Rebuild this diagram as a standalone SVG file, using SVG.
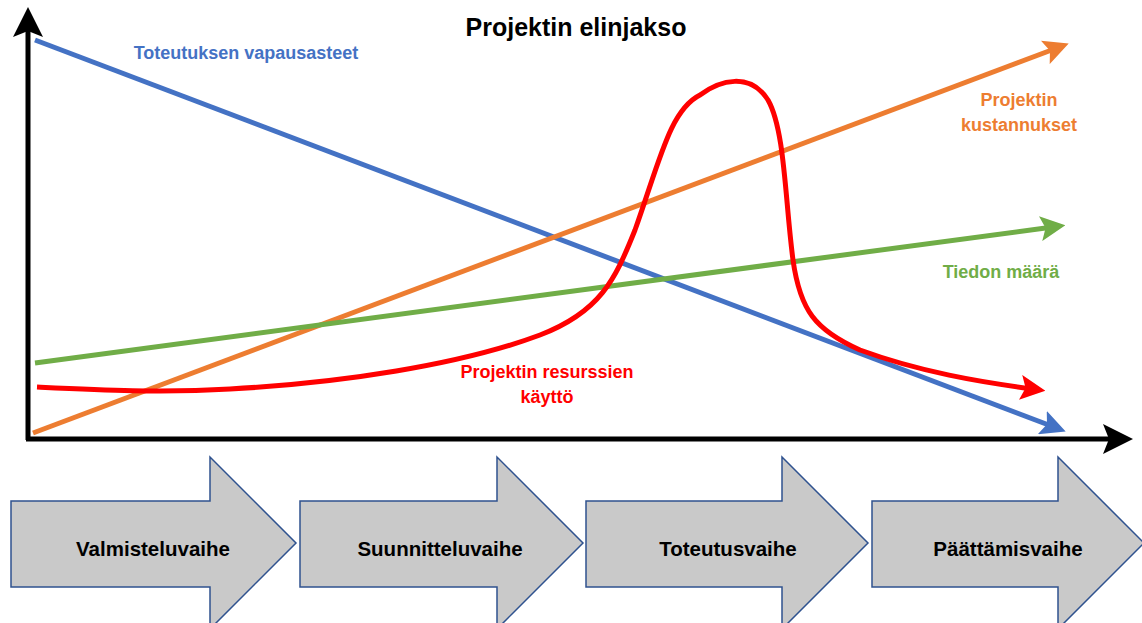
<svg xmlns="http://www.w3.org/2000/svg" width="1142" height="623" viewBox="0 0 1142 623">
  <defs>
    <style>
      text { font-family: "Liberation Sans", Arial, sans-serif; font-weight: bold; }
      .title { font-size: 25px; fill: #000; }
      .lbl { font-size: 18px; }
      .phase-shape { fill: #C9C9C9; stroke: #2F528F; stroke-width: 1.5; }
      .phase-text { font-size: 20.5px; fill: #000; }
      .curve { fill: none; stroke-width: 5; }
    </style>
    <marker id="arrBlack" markerWidth="6" markerHeight="6" refX="3" refY="3" orient="auto" markerUnits="strokeWidth">
      <path d="M0,0 L6,3 L0,6 L1.2,3 Z" fill="#000"/>
    </marker>
    <marker id="arrBlue" markerWidth="5" markerHeight="5" refX="2.5" refY="2.5" orient="auto" markerUnits="strokeWidth">
      <path d="M0,0 L5,2.5 L0,5 L1,2.5 Z" fill="#4472C4"/>
    </marker>
    <marker id="arrOrange" markerWidth="5" markerHeight="5" refX="2.5" refY="2.5" orient="auto" markerUnits="strokeWidth">
      <path d="M0,0 L5,2.5 L0,5 L1,2.5 Z" fill="#ED7D31"/>
    </marker>
    <marker id="arrGreen" markerWidth="5" markerHeight="5" refX="2.5" refY="2.5" orient="auto" markerUnits="strokeWidth">
      <path d="M0,0 L5,2.5 L0,5 L1,2.5 Z" fill="#70AD47"/>
    </marker>
    <marker id="arrRed" markerWidth="5" markerHeight="5" refX="2.5" refY="2.5" orient="auto" markerUnits="strokeWidth">
      <path d="M0,0 L5,2.5 L0,5 L1,2.5 Z" fill="#FF0000"/>
    </marker>
  </defs>

  <rect width="1142" height="623" fill="#fff"/>

  <text class="title" x="576" y="36" text-anchor="middle">Projektin elinjakso</text>

  <!-- axes -->
  <g id="axes" stroke="#000" stroke-width="5" fill="none">
    <path d="M28,440 L28,22" marker-end="url(#arrBlack)"/>
    <path d="M26,439 L1118,439" marker-end="url(#arrBlack)"/>
  </g>

  <!-- curves -->
  <g id="connectors">
    <path class="curve" stroke="#4472C4" d="M35,40 L1054,427" marker-end="url(#arrBlue)"/>
    <path class="curve" stroke="#ED7D31" d="M33,433 L1057,48" marker-end="url(#arrOrange)"/>
    <path class="curve" stroke="#70AD47" d="M35,363 L1053,227" marker-end="url(#arrGreen)"/>
    <path class="curve" stroke="#FF0000" d="M37,387 C100,390 160,393 230,389 C340,383 460,365 540,335 C600,312 615,280 635,230 C660,160 670,110 700,95 C720,80 750,72 768,100 C785,130 785,200 793,260 C800,310 815,330 860,350 C920,372 980,382 1033,389" marker-end="url(#arrRed)"/>
  </g>

  <!-- curve labels -->
  <g id="labels">
    <text class="lbl" x="246" y="59" fill="#4472C4" text-anchor="middle">Toteutuksen vapausasteet</text>
    <text class="lbl" x="1019" y="106" fill="#ED7D31" text-anchor="middle">Projektin</text>
    <text class="lbl" x="1019" y="131" fill="#ED7D31" text-anchor="middle">kustannukset</text>
    <text class="lbl" x="1001" y="278" fill="#70AD47" text-anchor="middle">Tiedon määrä</text>
    <text class="lbl" x="547" y="378" fill="#FF0000" text-anchor="middle">Projektin resurssien</text>
    <text class="lbl" x="547" y="403" fill="#FF0000" text-anchor="middle">käyttö</text>
  </g>

  <!-- phases -->
  <g id="phase1">
    <path class="phase-shape" d="M11,501 L210,501 L210,457 L296,543 L210,629 L210,587 L11,587 Z"/>
    <text class="phase-text" x="153" y="556" text-anchor="middle">Valmisteluvaihe</text>
  </g>
  <g id="phase2">
    <path class="phase-shape" d="M300,501 L497,501 L497,457 L583,543 L497,629 L497,587 L300,587 Z"/>
    <text class="phase-text" x="440" y="556" text-anchor="middle">Suunnitteluvaihe</text>
  </g>
  <g id="phase3">
    <path class="phase-shape" d="M586,501 L782,501 L782,457 L868,543 L782,629 L782,587 L586,587 Z"/>
    <text class="phase-text" x="728" y="556" text-anchor="middle">Toteutusvaihe</text>
  </g>
  <g id="phase4">
    <path class="phase-shape" d="M872,501 L1058,501 L1058,457 L1144,543 L1058,629 L1058,587 L872,587 Z"/>
    <text class="phase-text" x="1008" y="556" text-anchor="middle">Päättämisvaihe</text>
  </g>
</svg>
